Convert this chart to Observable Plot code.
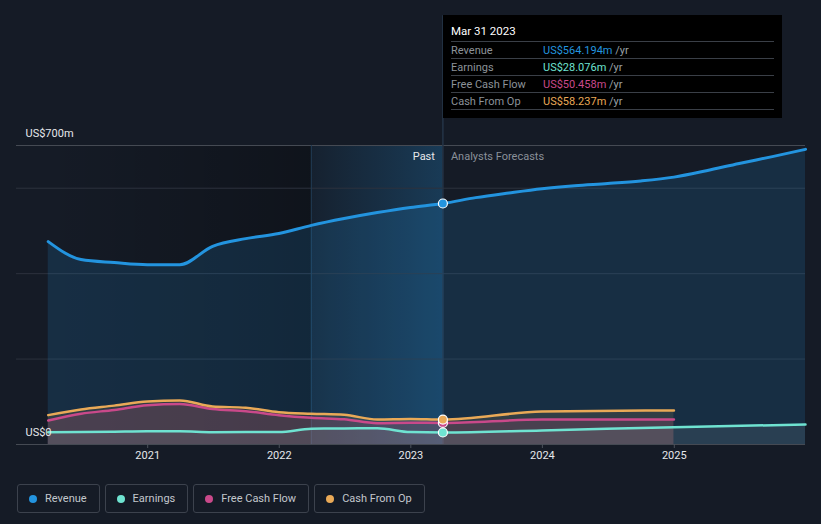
<!DOCTYPE html>
<html><head><meta charset="utf-8">
<script src="https://cdn.jsdelivr.net/npm/d3@7"></script>
<script src="https://cdn.jsdelivr.net/npm/@observablehq/plot@0.6"></script>
<style>
body{margin:0;background:#151b26;font-family:Roboto,"Noto Sans",sans-serif;width:821px;height:524px;overflow:hidden;position:relative}
#chart{position:absolute;left:0;top:0}
.tip{position:absolute;left:443px;top:15px;width:339px;height:103px;background:#000;color:#fff;font-size:11px}
.tip .title{position:absolute;left:8px;top:9px;font-size:11.5px;color:#fff}
.tip .row{position:absolute;left:8px;width:323px;height:17px;border-top:1px solid #3a3f47;line-height:17px}
.tip .row .lab{position:absolute;left:0;color:#8c9299}
.tip .row .val{position:absolute;left:92px;color:#9aa0a6}
.tip .last{position:absolute;left:8px;width:323px;top:94px;border-top:1px solid #3a3f47}
.legend{position:absolute;left:17px;top:484px;display:flex;gap:5px}
.legend div{height:27px;border:1px solid #3c424d;border-radius:3px;color:#c3c7cd;font-size:11px;line-height:27px;padding:0 12px 0 27px;position:relative;box-sizing:content-box}
.legend div span{position:absolute;left:11px;top:9.5px;width:8px;height:8px;border-radius:50%}
</style></head>
<body>
<div id="chart"></div>
<div class="tip" id="tip"></div>
<div class="legend" id="legend"></div>
<script>
// ---- data ----
const pastDates = ["2020-03-31","2020-06-30","2020-09-30","2020-12-31","2021-03-31","2021-06-30","2021-09-30","2021-12-31","2022-03-31","2022-06-30","2022-09-30","2022-12-31","2023-03-31"];
const revenuePast = [475,433,426,421,421,464,482,494,513,529,543,555,564.194];
const earningsPast = [28.8,29,30,31,31,28.8,29,29,37,37.5,38,29,28.076];
const fcfPast = [56,72,81,92,95,83,78,68.6,62.5,59,50,50.8,50.458];
const cfoPast = [68.8,82,91,100.7,103,89,86,75.6,72,69.5,58.5,59.7,58.237];

const revForecastDates = ["2023-03-31","2023-06-30","2023-09-30","2023-12-31","2024-03-31","2024-06-30","2024-09-30","2024-12-31","2025-03-31","2025-06-30","2025-09-30","2025-12-31"];
const revenueForecast = [564.194,578,589,599,606,611,617,626,641,658,674,691];
const earnForecastDates = ["2023-03-31","2023-12-31","2024-12-31","2025-12-31"];
const earningsForecast = [28.076,33,40.5,46.8];
const cashForecastDates = ["2023-03-31","2023-12-31","2024-12-31"];
const fcfForecast = [50.458,58.5,58.5];
const cfoForecast = [58.237,77,79.6];

const seriesNames = ["Revenue","Earnings","Free Cash Flow","Cash From Op"];
const seriesColors = ["#2394df","#6fe3d1","#c9498a","#e9a957"];
const tooltipDate = "Mar 31 2023";
const tooltipValues = ["US$564.194m","US$28.076m","US$50.458m","US$58.237m"];
const xTicks = ["2021-01-01","2022-01-01","2023-01-01","2024-01-01","2025-01-01"];
const yGrid = [0,200,400,600,700];
const yLabels = [{v:700,t:"US$700m"},{v:0,t:"US$0"}];
const xDomain = ["2020-01-03","2025-12-31"];
const pastStart = "2022-03-31", nowDate = "2023-03-31", dataStart = "2020-03-31";
const tipTop = 1004;

const P = d3.utcParse("%Y-%m-%d");
const ser = (ds, vs) => ds.map((d,i)=>({date:P(d), value:vs[i]}));
const revenue = ser(pastDates, revenuePast).concat(ser(revForecastDates, revenueForecast).slice(1));
const earnings = ser(pastDates, earningsPast).concat(ser(earnForecastDates, earningsForecast).slice(1));
const fcf = ser(pastDates, fcfPast).concat(ser(cashForecastDates, fcfForecast).slice(1));
const cfo = ser(pastDates, cfoPast).concat(ser(cashForecastDates, cfoForecast).slice(1));
const now = P(nowDate);
const nowPts = [revenue, earnings, fcf, cfo].map((s,i)=>({date:now, value:s.find(d=>+d.date===+now).value, c:seriesColors[i]}));

const curve = "monotone-x";
const chart = Plot.plot({
  width: 821, height: 470,
  marginLeft: 16, marginRight: 16, marginTop: 145, marginBottom: 26,
  x: {type:"utc", domain: xDomain.map(P), ticks: xTicks.map(P), tickFormat: d3.utcFormat("%Y"), tickSize: 4, label: null},
  y: {domain:[0,700], axis: null},
  style: {background:"transparent", color:"#e6e8eb", fontSize:"11px", fontFamily:"Roboto, sans-serif"},
  marks: [
    Plot.rect([{a:P(dataStart), b:P(pastStart)}], {x1:"a", x2:"b", y1:0, y2:700, fill:"url(#gLeft)"}),
    Plot.rect([{a:P(pastStart), b:now}], {x1:"a", x2:"b", y1:0, y2:700, fill:"url(#gPast)"}),
    Plot.ruleY(yGrid.filter(v=>v>0 && v<700), {stroke:"#2c323d", strokeWidth:1}),
    Plot.ruleY([700], {stroke:"#454a53", strokeWidth:1}),
    Plot.ruleX([P(pastStart)], {y1:0, y2:700, stroke:"#213b54", strokeWidth:1}),
    Plot.ruleX([now], {y1:0, y2:tipTop, stroke:"#243447", strokeWidth:1.5}),
    Plot.areaY(revenue, {x:"date", y:"value", fill:seriesColors[0], fillOpacity:0.16, curve}),
    Plot.areaY(cfo, {x:"date", y:"value", fill:seriesColors[3], fillOpacity:0.13, curve}),
    Plot.areaY(fcf, {x:"date", y:"value", fill:seriesColors[2], fillOpacity:0.16, curve}),
    Plot.areaY(earnings, {x:"date", y:"value", fill:"#9aa8b0", fillOpacity:0.14, curve}),
    Plot.ruleY([0], {stroke:"#454a53", strokeWidth:1}),
    Plot.line(earnings, {x:"date", y:"value", stroke:seriesColors[1], strokeWidth:2.5, curve}),
    Plot.line(fcf, {x:"date", y:"value", stroke:seriesColors[2], strokeWidth:2.5, curve}),
    Plot.line(cfo, {x:"date", y:"value", stroke:seriesColors[3], strokeWidth:2.5, curve}),
    Plot.line(revenue, {x:"date", y:"value", stroke:seriesColors[0], strokeWidth:3, curve}),
    Plot.dot(nowPts, {x:"date", y:"value", fill:"c", stroke:"#fff", strokeWidth:1.2, r:4.5}),
    Plot.text(yLabels, {y:"v", text:"t", frameAnchor:"left", dx:9, dy:-12, textAnchor:"start", fill:"#e6e8eb", fontSize:11}),
    Plot.text(["Past"], {x:now, y:700, text:d=>d, dx:-8, dy:11, textAnchor:"end", fill:"#e6e8eb", fontSize:11}),
    Plot.text(["Analysts Forecasts"], {x:now, y:700, text:d=>d, dx:8, dy:11, textAnchor:"start", fill:"#8a9099", fontSize:11}),
    Plot.axisX({ticks: xTicks.map(P), tickFormat: d3.utcFormat("%Y"), tickSize:4, stroke:"#4a505a", fill:"#e6e8eb", fontSize:11, tickPadding:3})
  ]
});
const svg = d3.select(chart);
const defs = svg.insert("defs", ":first-child");
const gl = defs.append("linearGradient").attr("id","gLeft");
gl.append("stop").attr("offset","0").attr("stop-color","#000").attr("stop-opacity",0.0);
gl.append("stop").attr("offset","1").attr("stop-color","#000").attr("stop-opacity",0.28);
const gp = defs.append("linearGradient").attr("id","gPast");
gp.append("stop").attr("offset","0").attr("stop-color","#2394df").attr("stop-opacity",0.05);
gp.append("stop").attr("offset","1").attr("stop-color","#2394df").attr("stop-opacity",0.26);
document.getElementById("chart").appendChild(chart);

// tooltip
const tip = document.getElementById("tip");
let h = `<div class="title">${tooltipDate}</div>`;
seriesNames.forEach((n,i)=>{
  h += `<div class="row" style="top:${26+17*i}px"><span class="lab">${n}</span><span class="val"><span style="color:${seriesColors[i]}">${tooltipValues[i]}</span> /yr</span></div>`;
});
h += `<div class="last"></div>`;
tip.innerHTML = h;
// legend
document.getElementById("legend").innerHTML = seriesNames.map((n,i)=>`<div><span style="background:${seriesColors[i]}"></span>${n}</div>`).join("");
</script>
</body></html>
